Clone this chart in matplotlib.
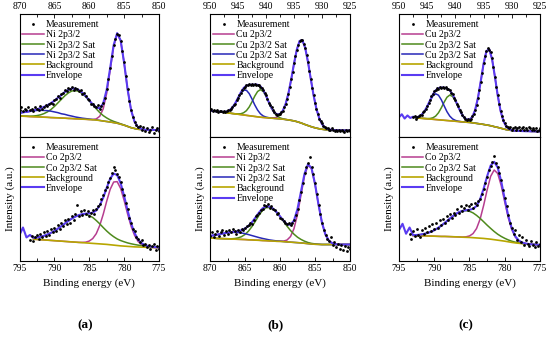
import numpy as np
import matplotlib.pyplot as plt
from matplotlib.ticker import MultipleLocator

plt.rcParams['font.family'] = ['Liberation Serif', 'DejaVu Serif']

nan = np.nan

# ---------------- (a) top : Ni 2p3/2, 870 -> 850 eV ----------------
a_top_bg = [17.0, 16.9, 16.8, 16.6, 16.5, 16.4, 16.3, 16.1, 16.0, 15.8, 15.7, 15.6, 15.4, 15.3,
            15.1, 15.0, 14.8, 14.7, 14.5, 14.4, 14.2, 14.0, 13.8, 13.4, 13.0, 12.6, 12.2, 11.7,
            11.2, 10.4, 9.6, 8.6, 7.6, 6.9, 6.3, 6.1, 5.9, 5.8, 5.8, 5.7, 5.7]
a_top_main = {859.5: 0.2, 859.0: 0.9, 858.5: 3.4, 858.0: 9.9, 857.5: 22.9, 857.0: 42.2, 856.5: 62.0,
              856.0: 72.7, 855.5: 67.9, 855.0: 50.6, 854.5: 30.0, 854.0: 14.2, 853.5: 5.4,
              853.0: 1.6, 852.5: 0.4}
a_top_sat1 = {869.5: 0.07, 869.0: 0.15, 868.5: 0.3, 868.0: 0.55, 867.5: 1.0, 867.0: 1.7, 866.5: 2.9,
              866.0: 4.4, 865.5: 6.5, 865.0: 9.1, 864.5: 12.1, 864.0: 15.2, 863.5: 18.2, 863.0: 20.7,
              862.5: 22.4, 862.0: 23.0, 861.5: 22.4, 861.0: 20.7, 860.5: 18.2, 860.0: 15.2,
              859.5: 12.1, 859.0: 9.1, 858.5: 6.5, 858.0: 4.4, 857.5: 2.9, 857.0: 1.7, 856.5: 1.0,
              856.0: 0.55, 855.5: 0.3, 855.0: 0.15, 854.5: 0.07}
a_top_sat2 = {870.0: 2.5, 869.5: 3.1, 869.0: 3.5, 868.5: 4.2, 868.0: 4.7, 867.5: 5.2, 867.0: 5.4,
              866.5: 5.5, 866.0: 5.4, 865.5: 5.2, 865.0: 4.7, 864.5: 4.2, 864.0: 3.5, 863.5: 3.1,
              863.0: 2.5, 862.5: 2.0, 862.0: 1.5, 861.5: 1.1, 861.0: 0.8, 860.5: 0.56, 860.0: 0.37,
              859.5: 0.24, 859.0: 0.15, 858.5: 0.09}
a_top_meas = [22, 24, 21, 23, 22, 24, 22, 23, 21, 24,
              23, 22, 25, 23, 24, 26, 25, 27, 28, 27,
              30, 31, 33, 32, 35, 36, 38, 37, 40, 39,
              41, 38, 40, 39, 37, 38, 35, 36, 33, 31,
              30, 27, 27, 25, 24, 26, 23, 25, 28, 32,
              39, 47, 56, 66, 75, 80, 84, 83, 78, 70,
              61, 50, 39, 29, 22, 16, 12, 10, 8, 9,
              6, 8, 5, 7, 4, 6, 8, 3, 6, 7,
              5]

# ---------------- (a) bottom : Co 2p3/2, 795 -> 775 eV ----------------
a_bot_bg = [nan, nan, nan, nan,
            17.6, 17.4, 17.2, 17.0, 16.8, 16.6, 16.4, 16.2, 16.0, 15.8, 15.6, 15.4, 15.2, 15.0,
            14.8, 14.6, 14.4, 14.2, 14.0, 13.8, 13.6, 13.4, 13.1, 12.8, 12.5, 12.2, 12.0, 11.8,
            11.6, 11.4, 11.3, 11.2, 11.1, 11.0, 10.9, 10.8, 10.7]
a_bot_main = {786.0: 0.2, 785.5: 0.6, 785.0: 1.7, 784.5: 3.9, 784.0: 8.0, 783.5: 14.8, 783.0: 24.0,
              782.5: 34.8, 782.0: 44.7, 781.5: 50.9, 781.0: 51.5, 780.5: 46.3, 780.0: 36.9,
              779.5: 26.1, 779.0: 16.4, 778.5: 9.2, 778.0: 4.5, 777.5: 2.0, 777.0: 0.8, 776.5: 0.3}
a_bot_sat1 = {793.0: 1.1, 792.5: 1.6, 792.0: 2.4, 791.5: 3.3, 791.0: 4.6, 790.5: 6.1, 790.0: 7.8,
              789.5: 9.9, 789.0: 12.1, 788.5: 14.4, 788.0: 16.7, 787.5: 18.8, 787.0: 20.6,
              786.5: 22.0, 786.0: 22.8, 785.5: 23.0, 785.0: 22.3, 784.5: 20.9, 784.0: 18.7,
              783.5: 16.2, 783.0: 13.4, 782.5: 10.8, 782.0: 8.6, 781.5: 6.8, 781.0: 5.3, 780.5: 4.3,
              780.0: 3.5, 779.5: 2.8, 779.0: 2.3, 778.5: 1.9, 778.0: 1.5, 777.5: 1.2, 777.0: 0.9,
              776.5: 0.7, 776.0: 0.5, 775.5: 0.35, 775.0: 0.25}
a_bot_head = {795.0: 21, 794.5: 27, 794.0: 19, 793.5: 21}
a_bot_meas = [nan, nan, nan, nan, nan, nan,
              17, 20, 16, 19, 21, 18, 22, 19, 23, 20,
              24, 21, 26, 23, 27, 24, 29, 26, 31, 28,
              33, 30, 34, 31, 36, 33, 38, 45, 36, 40,
              37, 41, 38, 40, 36, 39, 41, 38, 42, 44,
              46, 50, 53, 57, 60, 64, 67, 71, 76, 73,
              70, 68, 64, 58, 53, 47, 42, 35, 31, 26,
              24, 19, 18, 15, 17, 13, 14, 11, 13, 10,
              12, 14, 9, 12, 10]

# ---------------- (b) top : Cu 2p3/2, 950 -> 925 eV ----------------
b_top_bg = [21.5, 21.2, 20.9, 20.6, 20.3, 20.0, 19.7, 19.4, 19.1, 18.8, 18.5, 18.2, 17.9, 17.6,
            17.3, 17.0, 16.7, 16.4, 16.1, 15.9, 15.7, 15.5, 15.3, 15.1, 14.9, 14.7, 14.5, 14.2,
            13.9, 13.5, 13.1, 12.5, 11.8, 11.0, 10.1, 9.3, 8.5, 7.8, 7.2, 6.7, 6.3, 6.0, 5.8, 5.7,
            5.6, 5.5, 5.5, 5.4, 5.4, 5.3, 5.3]
b_top_main = {939.0: 0.2, 938.5: 0.5, 938.0: 1.3, 937.5: 3.1, 937.0: 6.6, 936.5: 12.5, 936.0: 21.5,
              935.5: 33.3, 935.0: 46.5, 934.5: 58.5, 934.0: 66.3, 933.5: 67.7, 933.0: 62.3,
              932.5: 51.6, 932.0: 38.6, 931.5: 26.0, 931.0: 15.7, 930.5: 8.6, 930.0: 4.2,
              929.5: 1.9, 929.0: 0.75, 928.5: 0.3, 928.0: 0.1}
b_top_sat1 = {945.5: 0.1, 945.0: 0.25, 944.5: 0.7, 944.0: 1.8, 943.5: 3.8, 943.0: 7.1, 942.5: 11.6,
              942.0: 16.6, 941.5: 20.6, 941.0: 22.4, 940.5: 21.2, 940.0: 17.5, 939.5: 12.6,
              939.0: 7.9, 938.5: 4.3, 938.0: 2.1, 937.5: 0.9, 937.0: 0.3, 936.5: 0.1}
b_top_sat2 = {948.0: 0.15, 947.5: 0.4, 947.0: 1.0, 946.5: 2.4, 946.0: 4.8, 945.5: 8.5, 945.0: 13.0,
              944.5: 17.3, 944.0: 20.1, 943.5: 20.4, 943.0: 18.0, 942.5: 13.9, 942.0: 9.3,
              941.5: 5.5, 941.0: 2.8, 940.5: 1.2, 940.0: 0.5, 939.5: 0.2, 939.0: 0.06}
b_top_meas = [22, 23, 21, 22, 21, 22, 20, 21, 21, 20,
              21, 20, 21, 22, 22, 23, 24, 26, 27, 30,
              32, 34, 36, 38, 40, 41, 42, 42, 43, 42,
              43, 42, 43, 42, 42, 42, 41, 40, 38, 36,
              34, 31, 28, 26, 24, 22, 20, 19, 18, 19,
              19, 20, 21, 24, 27, 31, 35, 41, 47, 53,
              60, 66, 71, 75, 78, 79, 79, 76, 72, 67,
              61, 54, 47, 40, 34, 28, 23, 19, 15, 13,
              11, 9, 8, 7, 7, 6, 6, 7, 6, 5,
              6, 5, 6, 5, 6, 5, 4, 6, 5, 6,
              5]

# ---------------- (b) bottom : Ni 2p3/2, 870 -> 850 eV ----------------
b_bot_bg = [18.5, 18.4, 18.2, 18.1, 18.0, 17.9, 17.7, 17.6, 17.5, 17.4, 17.3, 17.1, 17.0, 16.8,
            16.7, 16.5, 16.4, 16.2, 16.1, 15.9, 15.8, 15.6, 15.4, 15.2, 15.0, 14.8, 14.6, 14.3,
            14.0, 13.7, 13.5, 13.4, 13.3, 13.3, 13.3, 13.3, 13.3, 13.3, 13.3, 13.3, 13.3]
b_bot_main = {860.0: 0.1, 859.5: 0.4, 859.0: 1.5, 858.5: 4.5, 858.0: 11.1, 857.5: 22.8, 857.0: 38.6,
              856.5: 54.3, 856.0: 63.2, 855.5: 60.8, 855.0: 48.5, 854.5: 32.0, 854.0: 17.5,
              853.5: 7.9, 853.0: 3.0, 852.5: 0.9, 852.0: 0.2}
b_bot_sat1 = {867.5: 0.1, 867.0: 0.2, 866.5: 0.5, 866.0: 1.1, 865.5: 2.2, 865.0: 4.1, 864.5: 7.0,
              864.0: 10.8, 863.5: 15.4, 863.0: 20.2, 862.5: 24.2, 862.0: 26.6, 861.5: 26.9,
              861.0: 25.7, 860.5: 23.3, 860.0: 20.0, 859.5: 16.4, 859.0: 12.7, 858.5: 9.4,
              858.0: 6.6, 857.5: 4.4, 857.0: 2.8, 856.5: 1.7, 856.0: 0.9, 855.5: 0.5, 855.0: 0.3,
              854.5: 0.1}
b_bot_sat2 = {870.0: 1.8, 869.5: 2.3, 869.0: 3.0, 868.5: 3.7, 868.0: 4.3, 867.5: 4.9, 867.0: 5.3,
              866.5: 5.5, 866.0: 5.5, 865.5: 5.2, 865.0: 4.8, 864.5: 4.2, 864.0: 3.5, 863.5: 2.9,
              863.0: 2.2, 862.5: 1.7, 862.0: 1.2, 861.5: 0.8, 861.0: 0.5, 860.5: 0.3, 860.0: 0.2,
              859.5: 0.1}
b_bot_meas = [20, 23, 19, 22, 24, 20, 23, 25, 21, 24,
              22, 25, 23, 26, 24, 22, 25, 23, 26, 25,
              27, 28, 29, 31, 30, 33, 36, 37, 39, 41,
              42, 45, 44, 46, 43, 44, 42, 41, 38, 39,
              35, 34, 32, 31, 30, 31, 29, 31, 33, 37,
              42, 49, 56, 63, 71, 76, 79, 84, 76, 70,
              63, 54, 45, 38, 31, 25, 21, 18, 16, 19,
              13, 15, 11, 14, 10, 13, 9, 12, 8, 11,
              10]

# ---------------- (c) top : Cu 2p3/2, 950 -> 925 eV ----------------
c_top_bg = [nan, nan, nan, nan, nan, nan,
            15.5, 15.3, 15.2, 15.0, 14.8, 14.6, 14.4, 14.2, 14.0, 13.8, 13.6, 13.4, 13.2, 13.0,
            12.8, 12.6, 12.4, 12.2, 12.0, 11.8, 11.5, 11.2, 10.9, 10.6, 10.2, 9.8, 9.4, 8.9, 8.3,
            7.8, 7.2, 6.6, 6.0, 5.6, 5.3, 5.1, 5.0, 4.9, 4.8, 4.7, 4.7, 4.6, 4.6, 4.5, 4.5]
c_top_main = {938.5: 0.15, 938.0: 0.5, 937.5: 1.7, 937.0: 4.6, 936.5: 10.7, 936.0: 20.9, 935.5: 34.8,
              935.0: 49.5, 934.5: 60.0, 934.0: 62.0, 933.5: 54.5, 933.0: 40.9, 932.5: 26.1,
              932.0: 14.2, 931.5: 6.6, 931.0: 2.6, 930.5: 0.9, 930.0: 0.25}
c_top_sat1 = {945.5: 0.07, 945.0: 0.2, 944.5: 0.45, 944.0: 1.2, 943.5: 2.8, 943.0: 5.7, 942.5: 9.9,
              942.0: 14.7, 941.5: 18.9, 941.0: 20.9, 940.5: 20.0, 940.0: 16.5, 939.5: 11.8,
              939.0: 7.2, 938.5: 3.8, 938.0: 1.7, 937.5: 0.7, 937.0: 0.2, 936.5: 0.07}
c_top_sat2 = {947.0: 0.45, 946.5: 1.2, 946.0: 2.8, 945.5: 5.7, 945.0: 9.9, 944.5: 14.7, 944.0: 18.9,
              943.5: 20.9, 943.0: 20.0, 942.5: 16.5, 942.0: 11.8, 941.5: 7.2, 941.0: 3.8,
              940.5: 1.7, 940.0: 0.7, 939.5: 0.2, 939.0: 0.07}
c_top_head = {950.0: 16.0, 949.5: 18.5, 949.0: 15.0, 948.5: 17.5, 948.0: 15.5, 947.5: 16.5}
c_top_meas = [nan, nan, nan, nan, nan, nan, nan, nan, nan, nan,
              16, 17, 15, 16, 17, 18, 18, 20, 21, 23,
              25, 28, 30, 33, 35, 37, 38, 40, 39, 41,
              40, 41, 40, 41, 39, 39, 38, 36, 35, 32,
              30, 27, 25, 22, 20, 18, 16, 15, 14, 15,
              14, 15, 17, 19, 22, 26, 32, 38, 45, 52,
              60, 66, 70, 72, 71, 69, 64, 57, 49, 41,
              34, 27, 21, 17, 14, 11, 9, 8, 7, 8,
              6, 7, 8, 6, 7, 8, 6, 7, 8, 6,
              7, 6, 8, 7, 6, 7, 6, 7, 5, 6,
              7]

# ---------------- (c) bottom : Co 2p3/2, 795 -> 775 eV ----------------
c_bot_bg = [nan, nan, nan, nan,
            20.5, 20.4, 20.3, 20.3, 20.2, 20.1, 20.0, 19.9, 19.8, 19.8, 19.7, 19.6, 19.5, 19.4,
            19.2, 19.1, 19.0, 18.8, 18.6, 18.4, 18.2, 17.9, 17.6, 17.2, 16.8, 16.4, 16.0, 15.5,
            15.0, 14.6, 14.3, 14.0, 13.8, 13.6, 13.4, 13.2, 13.0]
c_bot_main = {786.0: 0.1, 785.5: 0.4, 785.0: 1.2, 784.5: 3.3, 784.0: 7.6, 783.5: 15.3, 783.0: 26.5,
              782.5: 39.4, 782.0: 50.7, 781.5: 56.2, 781.0: 53.8, 780.5: 44.4, 780.0: 31.6,
              779.5: 19.4, 779.0: 10.3, 778.5: 4.7, 778.0: 1.8, 777.5: 0.6, 777.0: 0.2}
c_bot_sat1 = {793.0: 0.34, 792.5: 0.57, 792.0: 0.95, 791.5: 1.5, 791.0: 2.3, 790.5: 3.4, 790.0: 4.8,
              789.5: 6.6, 789.0: 8.7, 788.5: 11.0, 788.0: 13.5, 787.5: 16.0, 787.0: 18.2,
              786.5: 20.0, 786.0: 21.1, 785.5: 21.5, 785.0: 21.1, 784.5: 20.0, 784.0: 18.2,
              783.5: 16.0, 783.0: 13.5, 782.5: 11.0, 782.0: 8.7, 781.5: 6.6, 781.0: 4.8, 780.5: 3.4,
              780.0: 2.3, 779.5: 1.5, 779.0: 0.95, 778.5: 0.57, 778.0: 0.34, 777.5: 0.19,
              777.0: 0.1, 776.5: 0.05}
c_bot_head = {795.0: 25, 794.5: 30, 794.0: 22, 793.5: 27}
c_bot_meas = [nan, nan, nan, nan, nan, nan,
              22, 18, 24, 20, 26, 21, 19, 25, 22, 27,
              23, 28, 24, 30, 26, 31, 27, 33, 29, 34,
              31, 36, 33, 38, 35, 39, 37, 42, 39, 44,
              40, 43, 45, 41, 44, 46, 43, 47, 45, 48,
              50, 54, 58, 63, 68, 73, 77, 80, 85, 79,
              76, 71, 65, 57, 51, 44, 37, 31, 27, 22,
              25, 17, 21, 15, 19, 13, 17, 14, 12, 16,
              13, 11, 15, 12, 14]

ni_labels = ['Ni 2p3/2', 'Ni 2p3/2 Sat', 'Ni 2p3/2 Sat']
cu_labels = ['Cu 2p3/2', 'Cu 2p3/2 Sat', 'Cu 2p3/2 Sat']
co_labels = ['Co 2p3/2', 'Co 2p3/2 Sat']

comp_colors = ['#b63d8f', '#4e8a1c', '#2727b8']
bg_color = '#b7a600'
env_color = '#5a3cf2'


def grid(hi, lo, step):
    return np.round(np.arange(hi, lo - step / 2, -step), 2)


def on_grid(x, d):
    return np.array([d.get(float(v), 0.0) for v in x])


def draw(ax, hi, lo, bg, comps, labels, meas, head=None):
    xg = grid(hi, lo, 0.5)
    bg = np.array(bg, dtype=float)
    assert len(bg) == len(xg), (hi, len(bg))
    exc = [on_grid(xg, c) for c in comps]
    env = bg + sum(exc)
    if head:
        for k, v in head.items():
            env[xg == k] = v
    xm = grid(hi, lo, 0.25)
    assert len(meas) == len(xm), (hi, len(meas))

    ax.plot(xm, meas, ls='none', marker='o', ms=2.0, mew=0, color='k', zorder=5,
            label='Measurement')
    for e, lab, col in zip(exc, labels, comp_colors):
        ax.plot(xg, bg + e, color=col, lw=1.1, label=lab)
    ax.plot(xg, bg, color=bg_color, lw=1.2, label='Background')
    ax.plot(xg, env, color=env_color, lw=1.5, label='Envelope')

    ax.set_xlim(hi, lo)
    ax.set_ylim(0, 100)
    ax.set_yticks([])
    ax.xaxis.set_major_locator(MultipleLocator(5))
    ax.xaxis.set_minor_locator(MultipleLocator(2.5))
    ax.tick_params(axis='x', which='both', direction='in', width=0.6, labelsize=6.9, pad=2)
    ax.tick_params(axis='x', which='major', length=3)
    ax.tick_params(axis='x', which='minor', length=2)
    for s in ax.spines.values():
        s.set_linewidth(0.8)
    ax.legend(loc='upper left', bbox_to_anchor=(-0.01, 0.985), frameon=False, fontsize=7,
              numpoints=1, handlelength=2.2, handletextpad=0.2, labelspacing=0.12,
              borderpad=0.45, borderaxespad=0)


fig = plt.figure(figsize=(5.5, 3.37), dpi=100)
W, H = 550.0, 337.0
cols = [(19.5, 139.5), (210, 140), (399, 141)]

panels = [
    (870, 850, a_top_bg, [a_top_main, a_top_sat1, a_top_sat2], ni_labels, a_top_meas, None,
     795, 775, a_bot_bg, [a_bot_main, a_bot_sat1], co_labels, a_bot_meas, a_bot_head, '(a)'),
    (950, 925, b_top_bg, [b_top_main, b_top_sat1, b_top_sat2], cu_labels, b_top_meas, None,
     870, 850, b_bot_bg, [b_bot_main, b_bot_sat1, b_bot_sat2], ni_labels, b_bot_meas, None, '(b)'),
    (950, 925, c_top_bg, [c_top_main, c_top_sat1, c_top_sat2], cu_labels, c_top_meas, c_top_head,
     795, 775, c_bot_bg, [c_bot_main, c_bot_sat1], co_labels, c_bot_meas, c_bot_head, '(c)'),
]

for (left, width), p in zip(cols, panels):
    (t_hi, t_lo, t_bg, t_comps, t_lab, t_meas, t_head,
     b_hi, b_lo, b_bg, b_comps, b_lab, b_meas, b_head, tag) = p

    ax_t = fig.add_axes([left / W, (H - 137) / H, width / W, 123 / H])
    draw(ax_t, t_hi, t_lo, t_bg, t_comps, t_lab, t_meas, t_head)
    ax_t.tick_params(axis='x', which='both', top=True, bottom=False,
                     labeltop=True, labelbottom=False)

    ax_b = fig.add_axes([left / W, (H - 261) / H, width / W, 124 / H])
    draw(ax_b, b_hi, b_lo, b_bg, b_comps, b_lab, b_meas, b_head)
    ax_b.tick_params(axis='x', which='both', top=False, bottom=True)
    ax_b.set_xlabel('Binding energy (eV)', fontsize=8, labelpad=4)
    ax_b.set_ylabel('Intensity (a.u.)', fontsize=8)
    ax_b.yaxis.set_label_coords(-0.035, 0.5)

    fig.text((left + width / 2 - 4) / W, 1 - 325 / H, tag, ha='center', va='center',
             fontsize=9.5, fontweight='bold')

fig.savefig('out.png', dpi=100)
